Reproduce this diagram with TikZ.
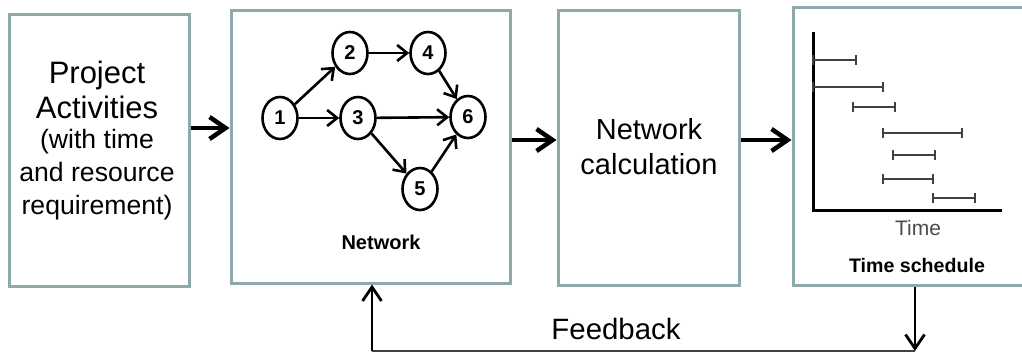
\documentclass[tikz,border=0pt]{standalone}
\usepackage{fontspec}
\setmainfont{Liberation Sans}
\usetikzlibrary{arrows.meta,shapes.geometric}

\definecolor{boxline}{RGB}{143,168,170}

\begin{document}
\begin{tikzpicture}[x=0.5pt,y=-0.5pt]
\tikzset{block/.style={draw=boxline, line width=1.5pt, fill=white, inner sep=0pt}}
\tikzset{flow/.style={line width=2.25pt, -{Straight Barb[length=8pt,width=11pt]}}}
\tikzset{fbarrow/.style={line width=1.4pt, -{Straight Barb[length=7pt,width=9.5pt]}}}
\tikzset{fbline/.style={draw=black!75, line width=0.8pt}}
\tikzset{event/.style={draw, ellipse, line width=1.3pt, minimum width=17.5pt, minimum height=21pt, inner sep=0pt, font=\fontsize{10}{11}\selectfont\bfseries}}
\tikzset{link/.style={line width=1.3pt, -{Straight Barb[length=5pt,width=8pt]}}}
\tikzset{bar/.style={draw=black!75, line width=0.6pt}}
	\useasboundingbox (0,0) rectangle (1022,354);
	\clip (0,0) rectangle (1022,354);

	\node[block, minimum width=90pt, minimum height=136pt] (activities) at (99,150) {};
	\node[block, minimum width=139.5pt, minimum height=136.5pt] (network) at (370.5,146.5) {};
	\node[block, minimum width=90.5pt, minimum height=137.5pt] (calc) at (648.5,147.5) {};
	\node[block, minimum width=123.5pt, minimum height=139pt] (schedule) at (916.5,146) {};

	\node[font=\fontsize{15.5}{17.5}\selectfont, align=center] (acttitle) at (97,90) {Project\\Activities};
	\node[font=\fontsize{13.3}{16.5}\selectfont, align=center] (actnote) at (97,175) {(with time\\and resource\\requirement)};
	\node[font=\fontsize{14.5}{17.5}\selectfont, align=center] (calctext) at (649,147) {Network\\calculation};

	\node[event] (e1) at (280,118) {1};
	\node[event] (e2) at (350,53) {2};
	\node[event] (e3) at (358,118) {3};
	\node[event] (e4) at (428,53) {4};
	\node[event] (e5) at (420,189) {5};
	\node[event] (e6) at (468,117) {6};
	\foreach \a/\b in {e1/e2,e1/e3,e2/e4,e4/e6,e3/e6,e3/e5,e5/e6}
		\draw[link] (\a) -- (\b);
	\node[font=\fontsize{10}{11}\selectfont\bfseries] (netlabel) at (381,242) {Network};

	\coordinate (origin) at (813,210);
	\draw[line width=1.5pt] (813,32) -- (origin) -- (1002,210);
	\foreach \s/\e/\y in {813/856/60, 813/883/87, 853/895/107, 883/962/133, 893/935/155, 883/933/179, 933/975/198}
		\draw[bar] (\s,\y) -- (\e,\y) (\s,\y-5) -- (\s,\y+5) (\e,\y-5) -- (\e,\y+5);
	\node[font=\fontsize{10.5}{12}\selectfont, text=black!70] (timeaxis) at (918,228) {Time};
	\node[font=\fontsize{9.8}{11}\selectfont\bfseries] (schedlabel) at (917,265) {Time schedule};

	\draw[flow] ([yshift=11pt]activities.east) -- ([yshift=11pt]activities.east -| network.west);
	\draw[flow] ([yshift=3.25pt]network.east) -- ([yshift=3.25pt]network.east -| calc.west);
	\draw[flow] ([yshift=3.75pt]calc.east) -- ([yshift=3.75pt]calc.east -| schedule.west);

	\coordinate (fbright) at (915,351);
	\coordinate (fbleft) at (372,351);
	\draw[fbarrow] (fbright |- schedule.south) -- (fbright);
	\draw[fbline] (fbright) -- (fbleft);
	\draw[fbarrow] (fbleft) -- (fbleft |- network.south);
	\node[font=\fontsize{14.7}{17}\selectfont] (fblabel) at (616,329) {Feedback};
\end{tikzpicture}
\end{document}
